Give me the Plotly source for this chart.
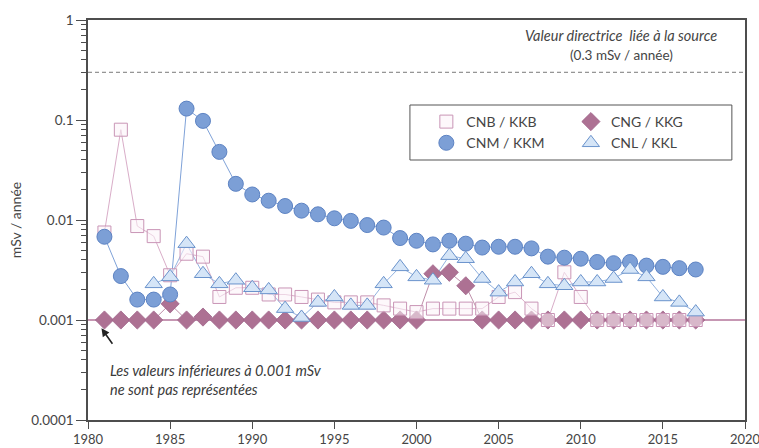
import plotly.graph_objects as go

# ---------------- data ----------------
years = list(range(1981, 2018))
years_cnl = list(range(1984, 2018))

cnb_kkb = [0.0075, 0.080, 0.0087, 0.0069, 0.0028, 0.0046, 0.0043, 0.0017, 0.0021, 0.0021,
           0.0018, 0.0018, 0.0017, 0.0016, 0.0015, 0.0015, 0.0015, 0.0014, 0.0013, 0.0012,
           0.0013, 0.0013, 0.0013, 0.0013, 0.0017, 0.0019, 0.0013, 0.001, 0.0030, 0.0017,
           0.001, 0.001, 0.001, 0.001, 0.001, 0.001, 0.001]
cng_kkg = [0.001, 0.001, 0.001, 0.001, 0.00145, 0.001, 0.00107, 0.001, 0.001, 0.001,
           0.001, 0.001, 0.001, 0.001, 0.001, 0.001, 0.001, 0.001, 0.001, 0.001,
           0.0029, 0.0030, 0.0022, 0.001, 0.001, 0.001, 0.001, 0.001, 0.001, 0.001,
           0.001, 0.001, 0.001, 0.001, 0.001, 0.001, 0.001]
cnm_kkm = [0.0068, 0.00275, 0.0016, 0.0016, 0.0018, 0.13, 0.098, 0.048, 0.023, 0.018,
           0.0156, 0.0138, 0.0124, 0.0114, 0.0104, 0.0098, 0.0089, 0.0084, 0.0066, 0.0062,
           0.0057, 0.0062, 0.0058, 0.0053, 0.0054, 0.0054, 0.0052, 0.0043, 0.0042, 0.0041,
           0.0038, 0.0037, 0.0038, 0.0035, 0.0034, 0.0033, 0.0032]
cnl_kkl = [0.0023, 0.0027, 0.0058, 0.0029, 0.0023, 0.0025, 0.0021, 0.0020, 0.0013, 0.00106,
           0.0015, 0.0017, 0.0014, 0.0014, 0.0023, 0.0034, 0.0027, 0.0025, 0.0044, 0.0041,
           0.0026, 0.0019, 0.0024, 0.0029, 0.0023, 0.0022, 0.0024, 0.0024, 0.0026, 0.0032,
           0.0027, 0.0017, 0.0015, 0.0012]

guide_value = 0.3
threshold = 0.001

y_tickvals = [0.0001, 0.001, 0.01, 0.1, 1]
y_ticktext = ["0.0001", "0.001", "0.01", "0.1", "1"]
x_tickvals = [1980, 1985, 1990, 1995, 2000, 2005, 2010, 2015, 2020]

# ---------------- styles ----------------
FONT = "Lato"
TXT = "#454545"
AX = "#4d4d4d"

c_cnb_line, c_cnb_edge, c_cnb_fill = "#d9adc8", "#c995b6", "rgba(252,242,248,0.55)"
c_cng = "#ad7193"
c_cnm_line, c_cnm_fill, c_cnm_edge = "#7fa2d8", "#7c9fd6", "#5d83c3"
c_cnl_line, c_cnl_fill, c_cnl_edge = "#93b3e0", "#d5e5f7", "#6a93cc"

fig = go.Figure()

# reference line at the representation threshold
fig.add_trace(go.Scatter(x=[1980, 2020], y=[threshold, threshold], mode="lines",
                         line=dict(color="#b3759a", width=1.3), showlegend=False, hoverinfo="skip"))

# lines (no legend)
fig.add_trace(go.Scatter(x=years, y=cng_kkg, mode="lines", line=dict(color=c_cng, width=0.8),
                         showlegend=False, hoverinfo="skip"))
fig.add_trace(go.Scatter(x=years, y=cnb_kkb, mode="lines", line=dict(color=c_cnb_line, width=1),
                         showlegend=False, hoverinfo="skip"))
fig.add_trace(go.Scatter(x=years, y=cnm_kkm, mode="lines", line=dict(color=c_cnm_line, width=1),
                         showlegend=False, hoverinfo="skip"))
fig.add_trace(go.Scatter(x=years_cnl, y=cnl_kkl, mode="lines", line=dict(color=c_cnl_line, width=1),
                         showlegend=False, hoverinfo="skip"))

# markers (legend)
fig.add_trace(go.Scatter(x=years, y=cng_kkg, mode="markers", name="CNG / KKG", legend="legend2",
                         marker=dict(symbol="diamond", size=14, color=c_cng,
                                     line=dict(color="#a0658a", width=0.8))))
fig.add_trace(go.Scatter(x=years, y=cnb_kkb, mode="markers", name="CNB / KKB", legend="legend",
                         marker=dict(symbol="square", size=13, color=c_cnb_fill,
                                     line=dict(color=c_cnb_edge, width=1))))
fig.add_trace(go.Scatter(x=years, y=cnm_kkm, mode="markers", name="CNM / KKM", legend="legend",
                         marker=dict(symbol="circle", size=15, color=c_cnm_fill,
                                     line=dict(color=c_cnm_edge, width=1))))
fig.add_trace(go.Scatter(x=years_cnl, y=cnl_kkl, mode="markers", name="CNL / KKL", legend="legend2",
                         marker=dict(symbol="triangle-up", size=15, color=c_cnl_fill,
                                     line=dict(color=c_cnl_edge, width=1))))

# guide value line (dashed)
fig.add_shape(type="line", xref="x", yref="y", x0=1980, x1=2020, y0=guide_value, y1=guide_value,
              line=dict(color="#7a7a7a", width=1, dash="4px,3px"), layer="below")

# legend frame
fig.add_shape(type="rect", xref="paper", yref="paper", x0=0.49, x1=0.98, y0=0.65, y1=0.7875,
              line=dict(color="#555555", width=1), fillcolor="rgba(0,0,0,0)")

# annotations
fig.add_annotation(x=0.812, y=0.962, xref="paper", yref="paper", showarrow=False,
                   text="<i>Valeur directrice  liée à la source</i>",
                   font=dict(family=FONT, size=14.5, color=TXT), xanchor="center", yanchor="middle")
fig.add_annotation(x=0.812, y=0.913, xref="paper", yref="paper", showarrow=False,
                   text="(0.3 mSv / année)",
                   font=dict(family=FONT, size=13.5, color=TXT), xanchor="center", yanchor="middle")
fig.add_annotation(x=0.031, y=0.10, xref="paper", yref="paper", showarrow=False, align="left",
                   text="<i>Les valeurs inférieures à 0.001 mSv<br>ne sont pas représentées</i>",
                   font=dict(family=FONT, size=14.5, color="#3a3a3a"), xanchor="left", yanchor="middle")
fig.add_annotation(x=1980.82, y=-3.083, xref="x", yref="y", text="", showarrow=True,
                   ax=12, ay=17, arrowhead=2, arrowsize=1, arrowwidth=1.6, arrowcolor="#222222")

minor_vals = [m * 10 ** e for e in range(-4, 0) for m in range(2, 10)]

fig.update_layout(
    width=759, height=448,
    margin=dict(l=88, r=14, t=20, b=28),
    paper_bgcolor="white", plot_bgcolor="white",
    font=dict(family=FONT, size=13.5, color=TXT),
    legend=dict(x=0.515, y=0.785, xanchor="left", yanchor="top", bgcolor="rgba(0,0,0,0)",
                font=dict(family=FONT, size=14, color=TXT), tracegroupgap=0),
    legend2=dict(x=0.735, y=0.785, xanchor="left", yanchor="top", bgcolor="rgba(0,0,0,0)",
                 font=dict(family=FONT, size=14, color=TXT), tracegroupgap=0),
    xaxis=dict(range=[1980, 2020], tickmode="array", tickvals=x_tickvals, showgrid=False,
               zeroline=False, showline=True, linecolor=AX, linewidth=1.5, mirror=True,
               ticks="outside", ticklen=7, tickwidth=1.2, tickcolor=AX, automargin=False,
               ticklabeloverflow="allow",
               tickfont=dict(family=FONT, size=13, color=TXT)),
    yaxis=dict(type="log", range=[-4, 0], tickmode="array", tickvals=y_tickvals, ticktext=y_ticktext,
               showgrid=False, zeroline=False, showline=True, linecolor=AX, linewidth=1.5, mirror=True,
               ticks="outside", ticklen=10, tickwidth=1.2, tickcolor=AX, automargin=False,
               minor=dict(tickmode="array", tickvals=minor_vals, ticks="outside", ticklen=5,
                          tickwidth=1, tickcolor=AX, showgrid=False),
               tickfont=dict(family=FONT, size=13.5, color=TXT),
               title=dict(text="mSv / année", standoff=6, font=dict(family=FONT, size=14, color=TXT))),
)

fig.write_html("out.html")
